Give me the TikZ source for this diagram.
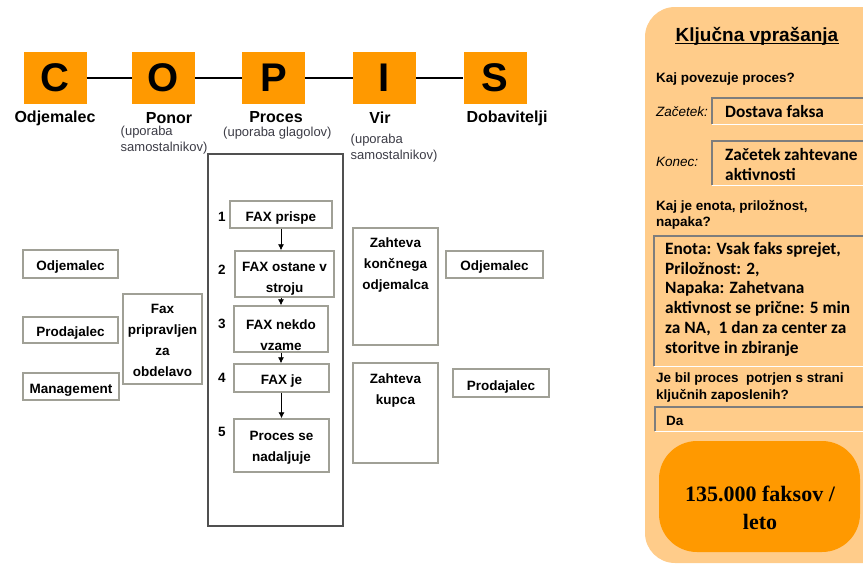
\documentclass[tikz,border=0pt]{standalone}
\usepackage{fontspec}
\setmainfont{Liberation Sans}
\newfontfamily\calfont{Carlito}
\newfontfamily\serfont{Liberation Serif}
\usetikzlibrary{arrows.meta}

\definecolor{copisorange}{RGB}{255,153,0}
\definecolor{panelorange}{RGB}{255,204,138}
\definecolor{boxgray}{RGB}{160,160,150}
\definecolor{framegray}{RGB}{80,80,80}
\definecolor{notegray}{RGB}{60,60,70}
\definecolor{bevelgray}{RGB}{125,125,125}

\newcommand\fsz[2]{\fontsize{#1}{#2}\selectfont}

\tikzset{
  letterbox/.style={fill=copisorange, minimum width=63pt, minimum height=52pt,
    inner sep=0pt, font=\bfseries\fsz{40}{40}},
  headlabel/.style={font=\bfseries\fsz{16}{18}, inner sep=0pt},
  note/.style={font=\fsz{13}{16}, text=notegray, align=left, inner sep=0pt, anchor=north west},
  graybox/.style={draw=boxgray, line width=1.4pt, fill=white, inner sep=0pt},
  btext/.style={inner sep=0pt, align=center, font=\bfseries\fsz{13.5}{21}},
  boxtext/.style={btext, anchor=north},
  stepnum/.style={font=\bfseries\fsz{13.5}{16}, inner sep=0pt},
  flow/.style={-{Latex[length=6pt,width=6pt]}, line width=0.8pt},
  link/.style={line width=1.3pt},
  ptext/.style={font=\bfseries\fsz{13.5}{16}, inner sep=0pt, anchor=base west},
  pital/.style={font=\itshape\fsz{13.5}{16}, inner sep=0pt, anchor=base west},
  pcal/.style={font=\calfont\bfseries\fsz{17.3}{20}, inner sep=0pt, anchor=base west},
  pfield/.style={inner sep=0pt, anchor=north west},
  bevdark/.style={draw=bevelgray, line width=1.5pt},
  bevlight/.style={draw=white, line width=1.5pt},
}

\begin{document}
\begin{tikzpicture}[x=1pt,y=-1pt]
\useasboundingbox (0,0) rectangle (863,565);
\begin{scope}
\clip (0,0) rectangle (863,565);

% ---------- COPIS header ----------
\node[letterbox] (C) at (55,78) {C};
\node[letterbox] (O) at (163.5,78) {O};
\node[letterbox] (P) at (273.5,78) {P};
\node[letterbox] (I) at (384.5,78) {I};
\node[letterbox] (S) at (495,78) {S};
\draw[link] (C) -- (O);
\draw[link] (O) -- (P);
\draw[link] (P) -- (I);
\draw[link] (I) -- (S);

\node[headlabel] (lC) at (55,118) {Odjemalec};
\node[headlabel] (lO) at (169,118) {Ponor};
\node[headlabel] (lP) at (276,117) {Proces};
\node[headlabel] (lI) at (380,118) {Vir};
\node[headlabel] (lS) at (507,118) {Dobavitelji};

\node[note] (nO) at (120.5,126) {(uporaba\\samostalnikov)};
\node[note] (nP) at (223,127) {(uporaba glagolov)};
\node[note] (nI) at (350.5,134) {(uporaba\\samostalnikov)};

% ---------- process frame with steps ----------
\node[draw=framegray, line width=1.3pt, minimum width=135pt, minimum height=372pt,
  inner sep=0pt] (frame) at (275.5,340) {};

\node[graybox, minimum width=102pt, minimum height=27pt] (s1) at (281,214.5) {};
\node[graybox, minimum width=99pt, minimum height=46pt] (s2) at (284.5,274) {};
\node[graybox, minimum width=94pt, minimum height=46pt] (s3) at (281,329) {};
\node[graybox, minimum width=95pt, minimum height=28pt] (s4) at (281.5,378) {};
\node[graybox, minimum width=95pt, minimum height=53pt] (s5) at (281.5,445.5) {};
\node[btext] (s1t) at ([yshift=-4pt]s1.center) {FAX prispe};
\node[btext] (s2t) at ([yshift=-5pt]s2.center) {FAX ostane v\\stroju};
\node[btext] (s3t) at ([yshift=-6pt]s3.center) {FAX nekdo\\vzame};
\node[btext] (s4t) at ([yshift=-3.5pt]s4.center) {FAX je};
\node[btext] (s5t) at ([yshift=-2.5pt]s5.center) {Proces se\\nadaljuje};

\node[stepnum] (n1) at (222,217) {1};
\node[stepnum] (n2) at (222,270) {2};
\node[stepnum] (n3) at (222,324) {3};
\node[stepnum] (n4) at (222,378) {4};
\node[stepnum] (n5) at (222,432) {5};

\draw[flow] (s1.south) -- (s1.south |- s2.north);
\draw[flow] (s3.north |- s2.south) -- (s3.north);
\draw[flow] (s3.south) -- (s3.south |- s4.north);
\draw[flow] (s4.south) -- (s4.south |- s5.north);

% ---------- left side ----------
\node[graybox, minimum width=95pt, minimum height=28pt] (lo) at (70.5,264) {};
\node[graybox, minimum width=95pt, minimum height=26pt] (lp) at (70.5,330) {};
\node[graybox, minimum width=96pt, minimum height=27pt] (lm) at (71,386.5) {};
\node[graybox, minimum width=79pt, minimum height=90pt] (fx) at (162.5,339) {};
\node[btext] (lot) at ([yshift=-3.5pt]lo.center) {Odjemalec};
\node[btext] (lpt) at ([yshift=-3.5pt]lp.center) {Prodajalec};
\node[btext] (lmt) at ([yshift=-4pt]lm.center) {Management};
\node[btext] (fxt) at ([yshift=-1.5pt]fx.center) {Fax\\pripravljen\\za\\obdelavo};

% ---------- right side ----------
\node[graybox, minimum width=85pt, minimum height=117pt] (zk) at (395.5,286.5) {};
\node[boxtext] (zkt) at (395.5,238) {Zahteva\\kon\v{c}nega\\odjemalca};
\node[graybox, minimum width=97pt, minimum height=27pt] (ro) at (494.5,264.5) {};
\node[btext] (rot) at ([yshift=-3pt]ro.center) {Odjemalec};
\node[graybox, minimum width=85pt, minimum height=100pt] (zc) at (395.5,413) {};
\node[boxtext] (zct) at (395.5,374) {Zahteva\\kupca};
\node[graybox, minimum width=96pt, minimum height=28pt] (rp) at (501,383) {};
\node[btext] (rpt) at ([yshift=-4.5pt]rp.center) {Prodajalec};

% ---------- key questions panel ----------
\fill[panelorange, rounded corners=30pt] (645,7) rectangle (930,563);

\node[font=\bfseries\fsz{19}{22}, inner sep=0pt] (title) at (757,36) {Klju\v{c}na vpra\v{s}anja};
\draw[line width=1.1pt] ([yshift=-2pt]title.base west) -- ([yshift=-2pt]title.base east);

\node[ptext] (q1) at (656,82) {Kaj povezuje proces?};

\node[pfield, minimum width=200pt, minimum height=26pt] (fz) at (712,98) {};
\draw[bevdark] (fz.south west) -- (fz.north west) -- (fz.north east);
\draw[bevlight] (fz.south west) -- (fz.south east);
\node[pital] (lz) at (656,116.5) {Za\v{c}etek:};
\node[pcal] (vz) at (725,117) {Dostava faksa};

\node[pfield, minimum width=200pt, minimum height=44pt] (fk) at (712,141) {};
\draw[bevdark] (fk.south west) -- (fk.north west) -- (fk.north east);
\draw[bevlight] (fk.south west) -- (fk.south east);
\node[pital] (lk) at (656,166.5) {Konec:};
\node[pcal] (vk1) at (725,160.5) {Za\v{c}etek zahtevane};
\node[pcal] (vk2) at (725,180.5) {aktivnosti};

\node[ptext] (q2a) at (656,210) {Kaj je enota, prilo\v{z}nost,};
\node[ptext] (q2b) at (656,226.5) {napaka?};

\node[pfield, minimum width=260pt, minimum height=130pt] (fe) at (654,236) {};
\draw[bevdark] (fe.south west) -- (fe.north west) -- (fe.north east);
\draw[bevlight] (fe.south west) -- (fe.south east);
\node[pcal] (e1) at (665,254.5) {Enota: Vsak faks sprejet,};
\node[pcal] (e2) at (665,274.2) {Prilo\v{z}nost: 2,};
\node[pcal] (e3) at (665,293.9) {Napaka: Zahetvana};
\node[pcal] (e4) at (665,313.6) {aktivnost se pri\v{c}ne: 5 min};
\node[pcal] (e5) at (665,333.3) {za NA,\ \ 1 dan za center za};
\node[pcal] (e6) at (665,353) {storitve in zbiranje};

\node[ptext] (q3a) at (656,382) {Je bil proces\ \ potrjen s strani};
\node[ptext] (q3b) at (656,399) {klju\v{c}nih zaposlenih?};

\node[pfield, minimum width=260pt, minimum height=24pt] (fd) at (655,407) {};
\draw[bevdark] (fd.south west) -- (fd.north west) -- (fd.north east);
\draw[bevlight] (fd.south west) -- (fd.south east);
\node[ptext] (vd) at (666,425.5) {Da};

\node[fill=copisorange, rounded corners=38pt, minimum width=201pt, minimum height=111pt,
  inner sep=0pt] (total) at (759.5,496.5) {};
\node[font=\serfont\bfseries\fsz{22}{28}, align=center, inner sep=0pt] (totalt) at (760,508)
  {135.000 faksov /\\leto};

\end{scope}
\end{tikzpicture}
\end{document}
